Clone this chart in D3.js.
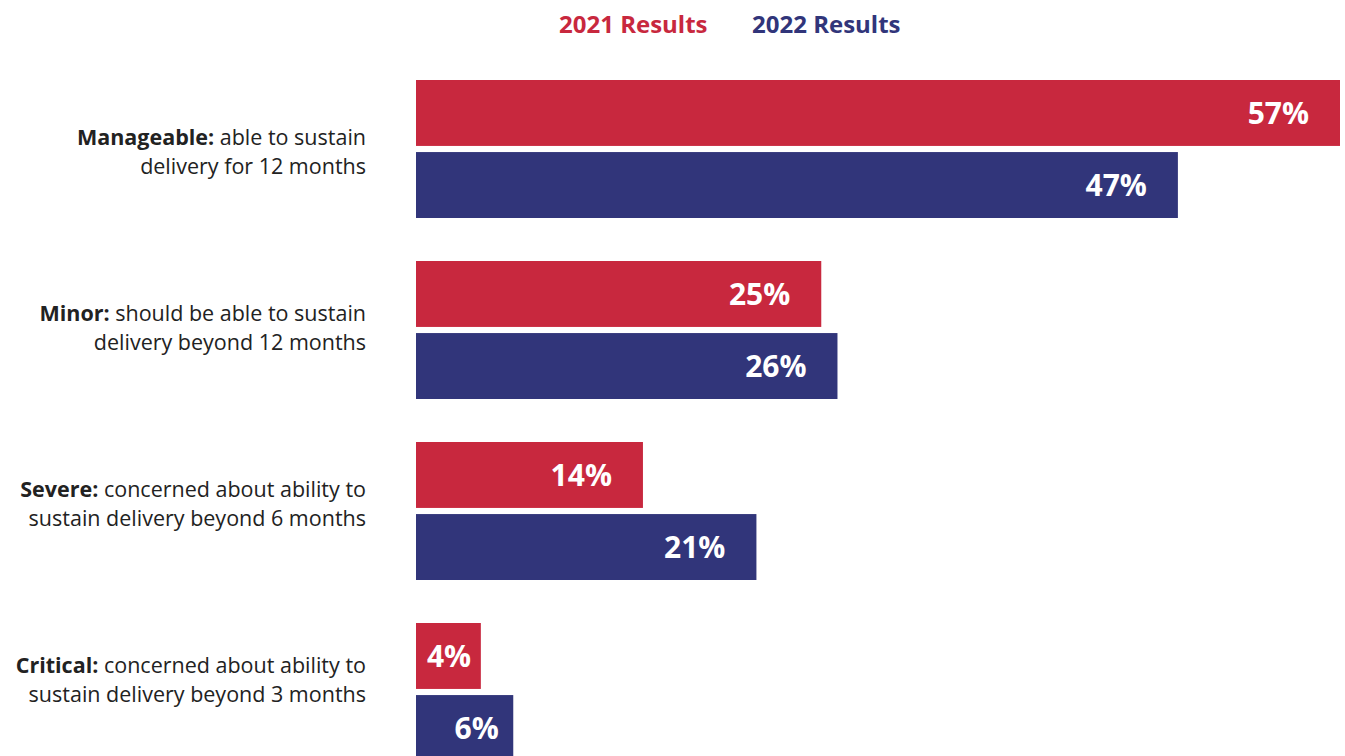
<!DOCTYPE html>
<html>
<head>
<meta charset="utf-8">
<script src="https://cdn.jsdelivr.net/npm/d3@7"></script>
<style>
  html, body { margin: 0; padding: 0; background: #fff; }
  svg { display: block; }
</style>
</head>
<body>
<svg id="chart" width="1345" height="756"></svg>
<script>
// Impact levels, each with a bold lead word and a two-line description
const categories = ["Manageable", "Minor", "Severe", "Critical"];
const leadWords = ["Manageable:", "Minor:", "Severe:", "Critical:"];
const firstLines = ["able to sustain", "should be able to sustain", "concerned about ability to", "concerned about ability to"];
const secondLines = ["delivery for 12 months", "delivery beyond 12 months", "sustain delivery beyond 6 months", "sustain delivery beyond 3 months"];

const seriesNames = ["2021 Results", "2022 Results"];
const values2021 = [57, 25, 14, 4];
const values2022 = [47, 26, 21, 6];

const colors = ["#C8283E", "#31357A"];

const svg = d3.select("#chart");
const font = "'Open Sans', 'Noto Sans', sans-serif";

const x = d3.scaleLinear()
  .domain([0, d3.max([...values2021, ...values2022])])
  .range([416, 1340]);

const y = d3.scaleBand()
  .domain(categories)
  .range([80, 761])
  .paddingInner(0.2376)
  .paddingOuter(0);

const ySeries = d3.scaleBand()
  .domain(seriesNames)
  .range([0, y.bandwidth()])
  .paddingInner(0.085);

// Baseline of the first line of each category label
const yLabel = d3.scalePoint()
  .domain(categories)
  .range([145, 673]);

const rows = categories.map((c, i) => ({
  cat: c,
  vals: [values2021[i], values2022[i]]
}));

// Legend
const legendX = [559, 752];
svg.selectAll("text.legend")
  .data(seriesNames)
  .join("text")
  .attr("class", "legend")
  .attr("x", (d, i) => legendX[i])
  .attr("y", 33)
  .attr("fill", (d, i) => colors[i])
  .style("font-family", font)
  .style("font-weight", 700)
  .style("font-size", "24px")
  .text(d => d);

// Bars and value labels
const groups = svg.selectAll("g.group")
  .data(rows)
  .join("g")
  .attr("class", "group")
  .attr("transform", d => `translate(0,${y(d.cat)})`);

const bars = groups.selectAll("g.bar")
  .data(d => d.vals.map((v, i) => ({ series: seriesNames[i], v, i })))
  .join("g")
  .attr("class", "bar");

bars.append("rect")
  .attr("x", x(0))
  .attr("y", d => ySeries(d.series))
  .attr("width", d => x(d.v) - x(0))
  .attr("height", ySeries.bandwidth())
  .attr("fill", d => colors[d.i]);

bars.append("text")
  .attr("x", d => {
    const w = x(d.v) - x(0);
    return x(d.v) - Math.min(31, w * 0.15);
  })
  .attr("y", d => ySeries(d.series) + ySeries.bandwidth() / 2 + 11)
  .attr("text-anchor", "end")
  .attr("fill", "#fff")
  .style("font-family", font)
  .style("font-weight", 700)
  .style("font-size", "30px")
  .text(d => d.v + "%");

// Category labels
const labels = svg.selectAll("text.cat")
  .data(rows)
  .join("text")
  .attr("class", "cat")
  .attr("text-anchor", "end")
  .attr("fill", "#222")
  .style("font-family", font)
  .style("font-size", "21.5px");

labels.append("tspan")
  .attr("x", 366)
  .attr("y", d => yLabel(d.cat))
  .style("font-weight", 700)
  .text((d, i) => leadWords[i]);
labels.append("tspan")
  .text((d, i) => " " + firstLines[i]);
labels.append("tspan")
  .attr("x", 366)
  .attr("y", d => yLabel(d.cat) + 29)
  .text((d, i) => secondLines[i]);
</script>
</body>
</html>
